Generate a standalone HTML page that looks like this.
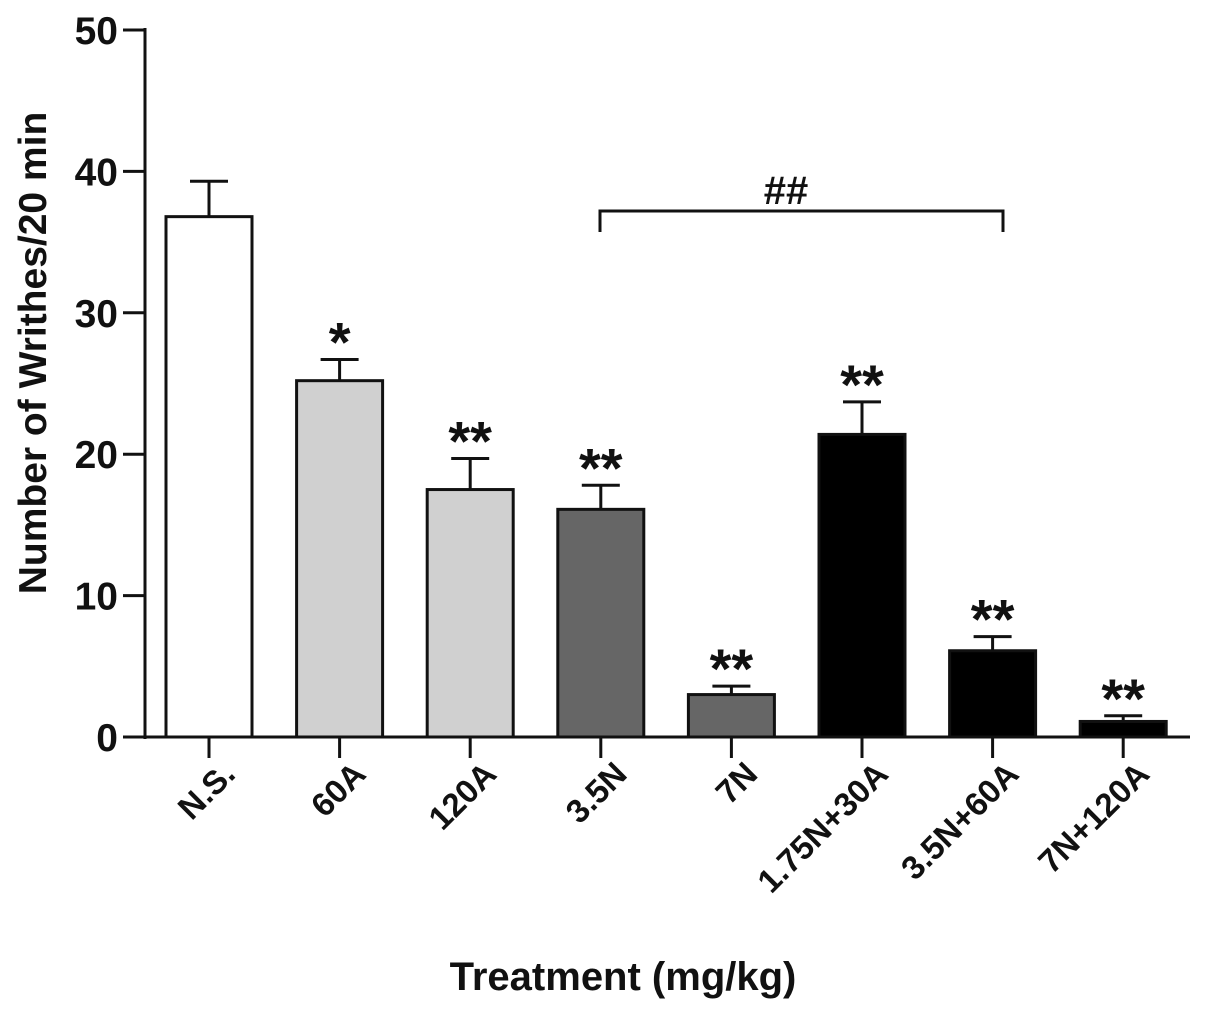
<!DOCTYPE html>
<html><head><meta charset="utf-8"><style>
body{margin:0;background:#fff}
svg text{font-family:"Liberation Sans",Arial,sans-serif;font-weight:bold;fill:#111}
</style></head><body>
<svg width="1205" height="1010" id="chart"></svg>
<script>
const categories=["N.S.","60A","120A","3.5N","7N","1.75N+30A","3.5N+60A","7N+120A"];
const means=[36.8,25.2,17.5,16.1,3.0,21.4,6.1,1.1];
const errors=[2.5,1.5,2.2,1.7,0.6,2.3,1.0,0.4];
const stars=["","*","**","**","**","**","**","**"];
const fills=["#ffffff","#d0d0d0","#d0d0d0","#666666","#666666","#000000","#000000","#000000"];
const yTicks=[0,10,20,30,40,50];
const NS="http://www.w3.org/2000/svg";
const svg=document.getElementById('chart');
const y=v=>737-v*14.14;
const x=i=>209+i*130.6;
const bw=86;
function el(t,a,txt){const e=document.createElementNS(NS,t);for(const k in a)e.setAttribute(k,a[k]);if(txt!==undefined)e.textContent=txt;svg.appendChild(e);return e;}
yTicks.forEach(v=>{
 const t=el('line',{x1:123,x2:145,y1:y(v),y2:y(v),stroke:'#111','stroke-width':3});
 
 
 const l=el('text',{x:118,y:y(v)+14,'text-anchor':'end','font-size':39},v);
 
 
});
categories.forEach((c,i)=>{
 const cx=x(i);
 const et=y(means[i]+errors[i]);
 const eb=el('line',{x1:cx,x2:cx,y1:y(means[i]),y2:et,stroke:'#111','stroke-width':3});
 
 
 const cap=el('line',{x1:cx-19,x2:cx+19,y1:et,y2:et,stroke:'#111','stroke-width':3});
 
 
 const b=el('rect',{x:cx-bw/2,y:y(means[i]),width:bw,height:y(0)-y(means[i]),fill:fills[i],stroke:'#111','stroke-width':3});
 
 
 if(stars[i]){const s=el('text',{x:cx,y:et+2,'text-anchor':'middle','font-size':56},stars[i]);
 
 }
 const tk=el('line',{x1:cx,x2:cx,y1:737,y2:758,stroke:'#111','stroke-width':3});
 
 
 const lx=cx+28,ly=776;
 const l=el('text',{x:lx,y:ly,'text-anchor':'end','font-size':33,transform:`rotate(-45 ${lx} ${ly})`},c);
 
 
});
</script>
<svg style="position:absolute;left:0;top:0" width="1205" height="1010">
<line x1="145" y1="28" x2="145" y2="739" stroke="#111" stroke-width="3"/>
<line x1="144" y1="737" x2="1190" y2="737" stroke="#111" stroke-width="3"/>
<path d="M600 232 V211 H1003 V232" fill="none" stroke="#111" stroke-width="3"/>
<text x="786" y="204" text-anchor="middle" font-size="40">##</text>
<text x="623" y="990" text-anchor="middle" font-size="40">Treatment (mg/kg)</text>
<text x="0" y="0" transform="translate(46 353) rotate(-90)" text-anchor="middle" font-size="39">Number of Writhes/20 min</text>
</svg>
</body></html>
